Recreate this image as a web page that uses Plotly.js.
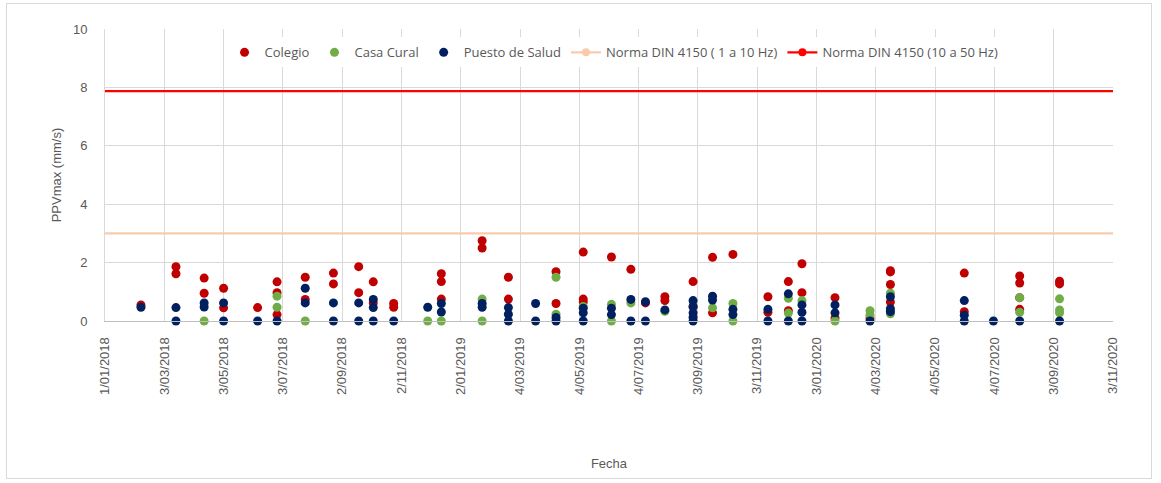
<!DOCTYPE html>
<html>
<head>
<meta charset="utf-8">
<script src="https://cdn.plot.ly/plotly-3.0.1.min.js"></script>
<style>
  body { margin: 0; background: #fff; }
  #chart { position: absolute; left: 0; top: 0; width: 1161px; height: 483px; }
  #frame { position: absolute; left: 6px; top: 3px; width: 1144px; height: 474px; border: 1px solid #d9d9d9; pointer-events: none; }
</style>
</head>
<body>
<div id="chart"></div>
<div id="frame"></div>
<script>
// Colegio
const colegioFechas = [
  '2018-02-07', '2018-03-15', '2018-03-15', '2018-04-13', '2018-04-13', '2018-05-03', '2018-05-03',
  '2018-06-07', '2018-06-27', '2018-06-27', '2018-06-27', '2018-07-26', '2018-07-26',
  '2018-08-24', '2018-08-24', '2018-09-19', '2018-09-19', '2018-10-04', '2018-10-04',
  '2018-10-25', '2018-10-25', '2018-12-13', '2018-12-13', '2018-12-13',
  '2019-01-24', '2019-01-24', '2019-02-20', '2019-02-20', '2019-04-10', '2019-04-10',
  '2019-05-08', '2019-05-08', '2019-05-08', '2019-06-06', '2019-06-26', '2019-07-11',
  '2019-07-31', '2019-07-31', '2019-08-29', '2019-08-29', '2019-09-18', '2019-09-18',
  '2019-10-09', '2019-11-14', '2019-11-14', '2019-12-05', '2019-12-05', '2019-12-19', '2019-12-19',
  '2020-01-22', '2020-01-22', '2020-02-27', '2020-03-19', '2020-03-19', '2020-03-19', '2020-03-19',
  '2020-06-03', '2020-06-03', '2020-07-30', '2020-07-30', '2020-07-30', '2020-07-30',
  '2020-09-09', '2020-09-09'
];
const colegioPPV = [
  0.55, 1.86, 1.62, 1.47, 0.95, 1.12, 0.45,
  0.46, 1.34, 0.97, 0.22, 1.50, 0.74,
  1.64, 1.27, 1.86, 0.97, 1.34, 0.62,
  0.60, 0.47, 1.62, 1.35, 0.75,
  2.75, 2.50, 1.50, 0.75, 1.69, 0.60,
  2.36, 0.75, 0.65, 2.19, 1.77, 0.62,
  0.83, 0.70, 1.35, 0.48, 2.18, 0.28,
  2.28, 0.83, 0.30, 1.35, 0.35, 1.96, 0.97,
  0.80, 0.10, 0.10, 1.72, 1.68, 1.25, 0.65,
  1.64, 0.32, 1.54, 1.30, 0.80, 0.40,
  1.36, 1.27
];

// Casa Cural
const casaFechas = [
  '2018-04-13', '2018-06-27', '2018-06-27', '2018-07-26', '2018-11-29', '2018-12-13',
  '2019-01-24', '2019-01-24', '2019-04-10', '2019-04-10', '2019-05-08', '2019-06-06', '2019-06-06',
  '2019-06-26', '2019-07-31', '2019-09-18', '2019-10-09', '2019-10-09', '2019-12-05', '2019-12-05',
  '2019-12-19', '2020-01-22', '2020-02-27', '2020-02-27', '2020-03-19', '2020-03-19',
  '2020-07-30', '2020-07-30', '2020-09-09', '2020-09-09', '2020-09-09'
];
const casaPPV = [
  0, 0.85, 0.47, 0, 0, 0,
  0.75, 0, 1.50, 0.23, 0.50, 0.57, 0,
  0.62, 0.33, 0.45, 0.60, 0, 0.78, 0.27,
  0.70, 0, 0.35, 0.20, 0.95, 0.25,
  0.80, 0.30, 0.76, 0.38, 0.28
];

// Puesto de Salud
const puestoFechas = [
  '2018-02-07', '2018-03-15', '2018-03-15', '2018-04-13', '2018-04-13', '2018-05-03', '2018-05-03',
  '2018-06-07', '2018-06-27', '2018-07-26', '2018-07-26', '2018-08-24', '2018-08-24',
  '2018-09-19', '2018-09-19', '2018-10-04', '2018-10-04', '2018-10-04', '2018-10-25',
  '2018-11-29', '2018-12-13', '2018-12-13', '2019-01-24', '2019-01-24',
  '2019-02-20', '2019-02-20', '2019-02-20', '2019-03-20', '2019-03-20', '2019-04-10', '2019-04-10',
  '2019-05-08', '2019-05-08', '2019-05-08', '2019-06-06', '2019-06-06', '2019-06-26', '2019-06-26',
  '2019-07-11', '2019-07-11', '2019-07-31', '2019-08-29', '2019-08-29', '2019-08-29', '2019-08-29', '2019-08-29',
  '2019-09-18', '2019-09-18', '2019-10-09', '2019-10-09', '2019-11-14', '2019-11-14',
  '2019-12-05', '2019-12-05', '2019-12-19', '2019-12-19', '2019-12-19', '2020-01-22', '2020-01-22',
  '2020-02-27', '2020-03-19', '2020-03-19', '2020-03-19', '2020-06-03', '2020-06-03', '2020-06-03',
  '2020-07-03', '2020-07-30', '2020-09-09'
];
const puestoPPV = [
  0.47, 0.46, 0, 0.62, 0.48, 0.62, 0,
  0, 0, 1.12, 0.62, 0.62, 0,
  0.62, 0, 0.74, 0.46, 0, 0,
  0.47, 0.60, 0.31, 0.60, 0.47,
  0.46, 0.23, 0, 0.60, 0, 0.12, 0,
  0.44, 0.28, 0, 0.44, 0.22, 0.74, 0,
  0.66, 0, 0.38, 0.70, 0.50, 0.28, 0.13, 0,
  0.85, 0.72, 0.40, 0.22, 0.40, 0,
  0.93, 0, 0.55, 0.30, 0, 0.55, 0.28,
  0, 0.83, 0.42, 0.32, 0.70, 0.20, 0,
  0, 0, 0
];

// Normas DIN 4150 (horizontal reference lines)
const normaFechas = ['2017-12-01', '2020-12-01'];
const norma1a10 = [3.0, 3.0];
const norma10a50 = [7.87, 7.87];

// Axis ticks (Excel date axis, every 61 days)
const tickFechas = [
  '2018-01-01', '2018-03-03', '2018-05-03', '2018-07-03', '2018-09-02', '2018-11-02',
  '2019-01-02', '2019-03-04', '2019-05-04', '2019-07-04', '2019-09-03', '2019-11-03',
  '2020-01-03', '2020-03-04', '2020-05-04', '2020-07-04', '2020-09-03', '2020-11-03'
];
const tickTextos = [
  '1/01/2018', '3/03/2018', '3/05/2018', '3/07/2018', '2/09/2018', '2/11/2018',
  '2/01/2019', '4/03/2019', '4/05/2019', '4/07/2019', '3/09/2019', '3/11/2019',
  '3/01/2020', '4/03/2020', '4/05/2020', '4/07/2020', '3/09/2020', '3/11/2020'
];

const gris = '#595959';
const fuente = 'Liberation Sans, Arial, sans-serif';

function puntos(nombre, x, y, color) {
  return {
    type: 'scatter', mode: 'markers', name: nombre, x: x, y: y,
    cliponaxis: false,
    marker: { color: color, size: 9 }
  };
}

function norma(nombre, y, color) {
  return {
    type: 'scatter', mode: 'lines+markers', name: nombre, x: normaFechas, y: y,
    line: { color: color, width: 2.25 },
    marker: { color: color, size: 8 }
  };
}

const traces = [
  puntos('Colegio', colegioFechas, colegioPPV, '#C00000'),
  puntos('Casa Cural', casaFechas, casaPPV, '#70AD47'),
  puntos('Puesto de Salud', puestoFechas, puestoPPV, '#002060'),
  norma('Norma DIN 4150 ( 1 a 10 Hz)', norma1a10, '#F8CBAD'),
  norma('Norma DIN 4150 (10 a 50 Hz)', norma10a50, '#FF0000')
];

const layout = {
  width: 1161, height: 483,
  margin: { l: 105, r: 48, t: 29, b: 162 },
  paper_bgcolor: 'rgba(0,0,0,0)',
  plot_bgcolor: '#fff',
  font: { family: fuente, color: gris, size: 12 },
  showlegend: true,
  legend: {
    orientation: 'h', x: 0.505, xanchor: 'center', y: 0.92, yanchor: 'middle',
    bgcolor: '#fff', font: { family: 'Open Sans, sans-serif', size: 13, color: gris }, itemwidth: 30
  },
  xaxis: {
    type: 'date',
    range: ['2018-01-01', '2020-11-03'],
    tickmode: 'array', tickvals: tickFechas, ticktext: tickTextos,
    tickangle: -90, tickfont: { size: 13, color: gris },
    ticks: 'outside', ticklen: 10, tickcolor: 'rgba(0,0,0,0)',
    showgrid: true, gridcolor: '#d9d9d9', gridwidth: 1,
    showline: true, linecolor: '#bfbfbf', linewidth: 1,
    zeroline: false,
    title: { text: 'Fecha', font: { size: 13, color: gris }, standoff: 64 }
  },
  yaxis: {
    range: [0, 10], dtick: 2,
    tickfont: { size: 13, color: gris },
    ticks: 'outside', ticklen: 14, tickcolor: 'rgba(0,0,0,0)',
    showgrid: true, gridcolor: '#d9d9d9', gridwidth: 1,
    showline: true, linecolor: '#d9d9d9', linewidth: 1,
    zeroline: false,
    title: { text: 'PPVmax (mm/s)', font: { size: 13, color: gris }, standoff: 8 }
  }
};

Plotly.newPlot('chart', traces, layout, { displayModeBar: false, responsive: false });
</script>
</body>
</html>
